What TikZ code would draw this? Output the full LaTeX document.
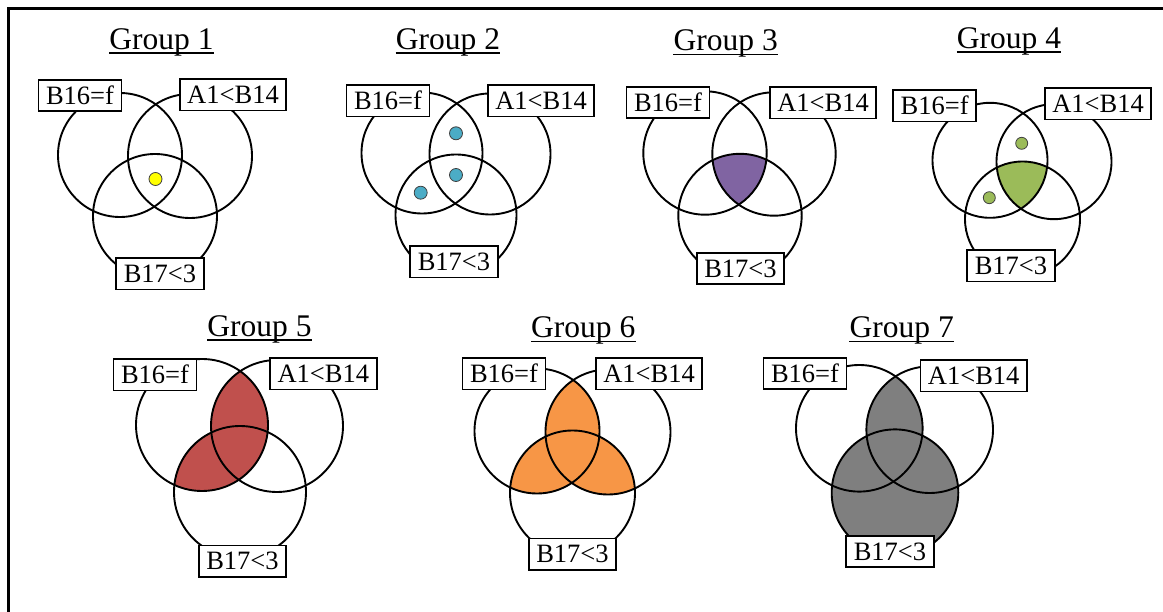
\documentclass[tikz,border=0pt]{standalone}
\usepackage{fontspec}
\setmainfont{Liberation Serif}
\definecolor{dotyellow}{HTML}{FFFF00}
\definecolor{dotblue}{HTML}{4BACC6}
\definecolor{fillpurple}{HTML}{8064A2}
\definecolor{fillgreen}{HTML}{9BBB59}
\definecolor{fillred}{HTML}{C0504D}
\definecolor{fillorange}{HTML}{F79646}
\definecolor{fillgray}{HTML}{7F7F7F}
\tikzset{
  ring/.style={draw=black, line width=1.9pt},
  lab/.style={draw=black, fill=white, line width=1.9pt,
    font=\fontsize{26.5}{30}\selectfont, inner xsep=7.5pt, inner ysep=6.8pt,
    text height=17.5pt, text depth=0pt},
  ttl/.style={font=\fontsize{31.5}{36}\selectfont, inner sep=0pt, anchor=base},
  uline/.style={line width=1.8pt},
  dotmark/.style={draw=black!75, line width=0.8pt},
  frameline/.style={line width=2.5pt}
}
\newcommand{\ttlline}[1]{\draw[uline] ([yshift=-3.5pt]#1.base west) -- ([yshift=-3.5pt]#1.base east);}
\begin{document}
\begin{tikzpicture}[x=1pt,y=-1pt]
\useasboundingbox (0,0) rectangle (1163,612);
% frame
\coordinate (fbl) at (8.7,620);
\coordinate (ftl) at (8.7,8.7);
\coordinate (ftr) at (1170,8.7);
\draw[frameline] (fbl) -- (ftl) -- (ftr);

% ---------------- Group 1
\coordinate (g1A) at (120,155);
\coordinate (g1B) at (190,156);
\coordinate (g1C) at (155,216);
\def\rr{62}
\draw[ring] (g1A) circle[radius=\rr];
\draw[ring] (g1B) circle[radius=\rr];
\draw[ring] (g1C) circle[radius=\rr];
\fill[dotyellow, dotmark] (155.5,179) circle[radius=6.5];
\node[ttl] (t1) at (161.5,49.5) {Group 1}; \ttlline{t1}
\node[lab] (g1a) at (80,95.5) {B16=f};
\node[lab] (g1b) at (233,95) {A1<B14};
\node[lab] (g1c) at (160,274) {B17<3};

% ---------------- Group 2
\coordinate (g2A) at (422,153);
\coordinate (g2B) at (490,154);
\coordinate (g2C) at (456,215);
\def\rr{60.5}
\draw[ring] (g2A) circle[radius=\rr];
\draw[ring] (g2B) circle[radius=\rr];
\draw[ring] (g2C) circle[radius=\rr];
\fill[dotblue, dotmark] (456,133.3) circle[radius=6.5];
\fill[dotblue, dotmark] (456,175) circle[radius=6.5];
\fill[dotblue, dotmark] (420.7,192.7) circle[radius=6.5];
\node[ttl] (t2) at (448,49.5) {Group 2}; \ttlline{t2}
\node[lab] (g2a) at (388,101) {B16=f};
\node[lab] (g2b) at (541,101) {A1<B14};
\node[lab] (g2c) at (454,262) {B17<3};

% ---------------- Group 3
\coordinate (g3A) at (705,153);
\coordinate (g3B) at (774,154);
\coordinate (g3C) at (740,215.5);
\def\rr{61.7}
\begin{scope}
  \clip (g3A) circle[radius=\rr];
  \clip (g3B) circle[radius=\rr];
  \fill[fillpurple] (g3C) circle[radius=\rr];
\end{scope}
\draw[ring] (g3A) circle[radius=\rr];
\draw[ring] (g3B) circle[radius=\rr];
\draw[ring] (g3C) circle[radius=\rr];
\node[ttl] (t3) at (725.7,51) {Group 3}; \ttlline{t3}
\node[lab] (g3a) at (668,102.5) {B16=f};
\node[lab] (g3b) at (823,103) {A1<B14};
\node[lab] (g3c) at (740.5,268.5) {B17<3};

% ---------------- Group 4
\coordinate (g4A) at (990,160.3);
\coordinate (g4B) at (1054,161.7);
\coordinate (g4C) at (1022.5,219);
\def\rr{57.5}
\begin{scope}
  \clip (g4A) circle[radius=\rr];
  \clip (g4B) circle[radius=\rr];
  \fill[fillgreen] (g4C) circle[radius=\rr];
\end{scope}
\draw[ring] (g4A) circle[radius=\rr];
\draw[ring] (g4B) circle[radius=\rr];
\draw[ring] (g4C) circle[radius=\rr];
\fill[fillgreen, dotmark] (1021.7,143.3) circle[radius=6];
\fill[fillgreen, dotmark] (989.3,197.7) circle[radius=6];
\node[ttl] (t4) at (1009,48.5) {Group 4}; \ttlline{t4}
\node[lab] (g4a) at (934.7,106) {B16=f};
\node[lab] (g4b) at (1098,104) {A1<B14};
\node[lab] (g4c) at (1011,266) {B17<3};

% ---------------- Group 5
\coordinate (g5A) at (202,425);
\coordinate (g5B) at (277,426);
\coordinate (g5C) at (240,492);
\def\rr{66}
\begin{scope}
  \clip (g5A) circle[radius=\rr];
  \fill[fillred] (g5B) circle[radius=\rr];
  \fill[fillred] (g5C) circle[radius=\rr];
\end{scope}
\draw[ring] (g5A) circle[radius=\rr];
\draw[ring] (g5B) circle[radius=\rr];
\draw[ring] (g5C) circle[radius=\rr];
\node[ttl] (t5) at (259.5,336.5) {Group 5}; \ttlline{t5}
\node[lab] (g5a) at (155,375) {B16=f};
\node[lab] (g5b) at (323.3,374) {A1<B14};
\node[lab] (g5c) at (242.5,561) {B17<3};

% ---------------- Group 6
\coordinate (g6A) at (537,431);
\coordinate (g6B) at (608,432);
\coordinate (g6C) at (572.5,493);
\def\rr{62.5}
\begin{scope}
  \clip (g6A) circle[radius=\rr];
  \fill[fillorange] (g6B) circle[radius=\rr];
  \fill[fillorange] (g6C) circle[radius=\rr];
\end{scope}
\begin{scope}
  \clip (g6B) circle[radius=\rr];
  \fill[fillorange] (g6C) circle[radius=\rr];
\end{scope}
\draw[ring] (g6A) circle[radius=\rr];
\draw[ring] (g6B) circle[radius=\rr];
\draw[ring] (g6C) circle[radius=\rr];
\node[ttl] (t6) at (583.3,338) {Group 6}; \ttlline{t6}
\node[lab] (g6a) at (504,374) {B16=f};
\node[lab] (g6b) at (649,374) {A1<B14};
\node[lab] (g6c) at (572.5,554) {B17<3};

% ---------------- Group 7
\coordinate (g7A) at (859.3,428.3);
\coordinate (g7B) at (929.7,429.7);
\coordinate (g7C) at (895,492.7);
\def\rr{63.3}
\fill[fillgray] (g7C) circle[radius=\rr];
\begin{scope}
  \clip (g7A) circle[radius=\rr];
  \fill[fillgray] (g7B) circle[radius=\rr];
\end{scope}
\draw[ring] (g7A) circle[radius=\rr];
\draw[ring] (g7B) circle[radius=\rr];
\draw[ring] (g7C) circle[radius=\rr];
\node[ttl] (t7) at (901.7,338) {Group 7}; \ttlline{t7}
\node[lab] (g7a) at (805,373.3) {B16=f};
\node[lab] (g7b) at (973.7,376) {A1<B14};
\node[lab] (g7c) at (890,551.7) {B17<3};
\end{tikzpicture}
\end{document}
